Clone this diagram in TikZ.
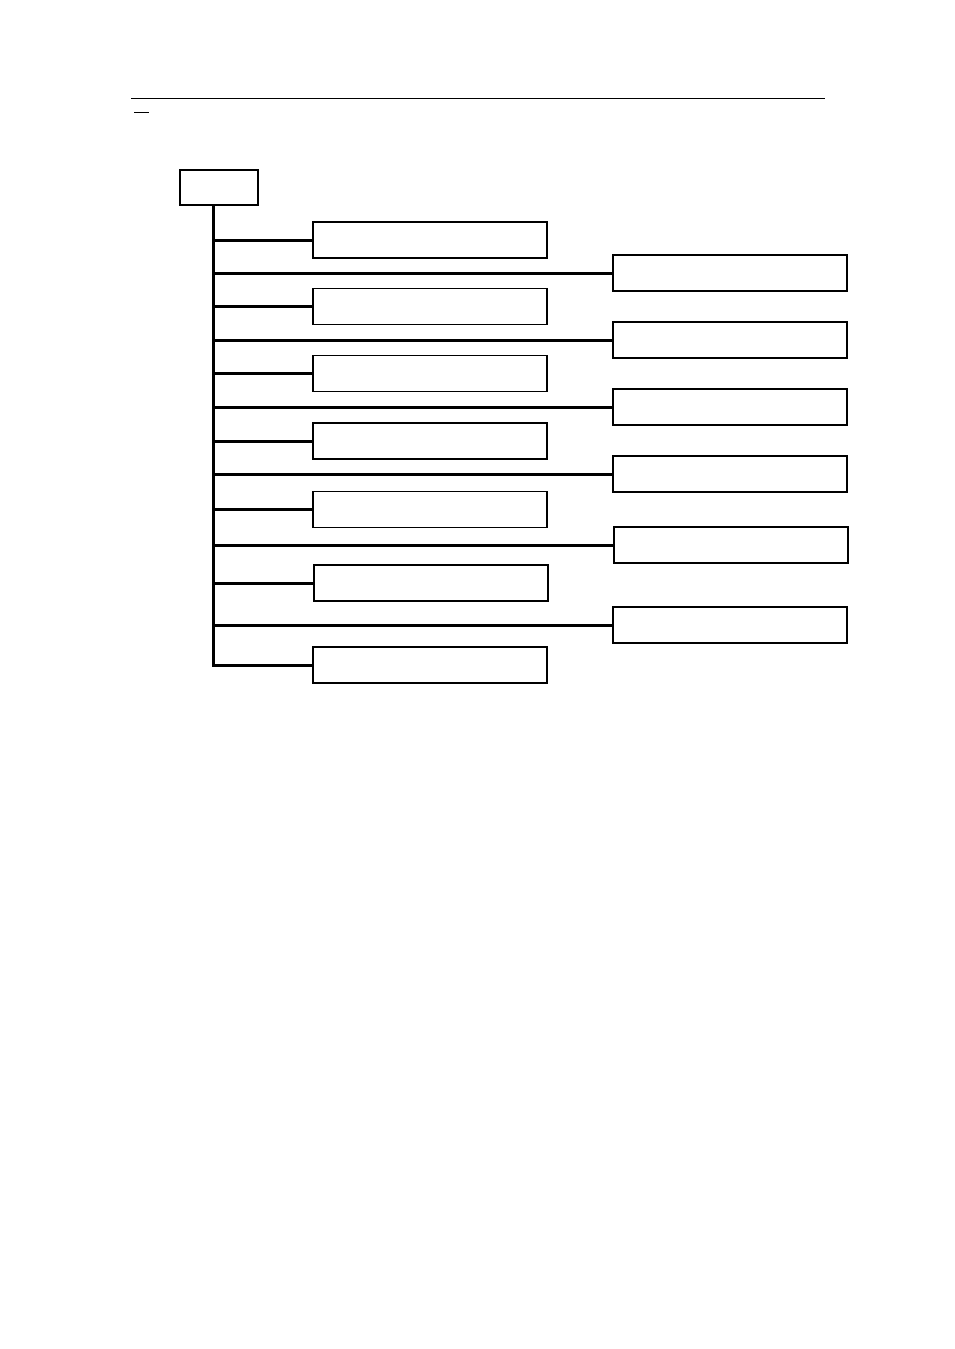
\documentclass[tikz,border=0pt]{standalone}
\usepackage{tikz}

\begin{document}
\begin{tikzpicture}[x=1pt,y=-1pt,
  box/.style={draw,line width=1.4pt,minimum width=234pt,minimum height=36pt,inner sep=0pt},
  link/.style={line width=3pt}]
\useasboundingbox (0,0) rectangle (954,1349);
\draw [line width=1pt] (131,98) -- (825,98);
\draw [line width=1pt] (134,112) -- (149,112);
\node [draw,line width=1.8pt,minimum width=78pt,minimum height=35pt,inner sep=0pt] (root) at (219,187.5) {};
\coordinate (t) at (213,665);
% left column
\node [box] (l1) at (430,240) {};
\node [box] (l2) at (430,306.5) {};
\node [box] (l3) at (430,373.5) {};
\node [box] (l4) at (430,441) {};
\node [box] (l5) at (430,509.5) {};
\node [box] (l6) at (431,583) {};
\node [box] (l7) at (430,665) {};
% right column
\node [box] (r1) at (730,273) {};
\node [box] (r2) at (730,340) {};
\node [box] (r3) at (730,407) {};
\node [box] (r4) at (730,474) {};
\node [box] (r5) at (731,545) {};
\node [box] (r6) at (730,625) {};
\draw [link,line join=miter] (root.south -| t) -- (t) -- (l7.west);
\draw [link] (l1.west -| t) -- (l1.west);
\draw [link] (l2.west -| t) -- (l2.west);
\draw [link] (l3.west -| t) -- (l3.west);
\draw [link] (l4.west -| t) -- (l4.west);
\draw [link] (l5.west -| t) -- (l5.west);
\draw [link] (l6.west -| t) -- (l6.west);
\draw [link] (r1.west -| t) -- (r1.west);
\draw [link] (r2.west -| t) -- (r2.west);
\draw [link] (r3.west -| t) -- (r3.west);
\draw [link] (r4.west -| t) -- (r4.west);
\draw [link] (r5.west -| t) -- (r5.west);
\draw [link] (r6.west -| t) -- (r6.west);
\end{tikzpicture}
\end{document}
